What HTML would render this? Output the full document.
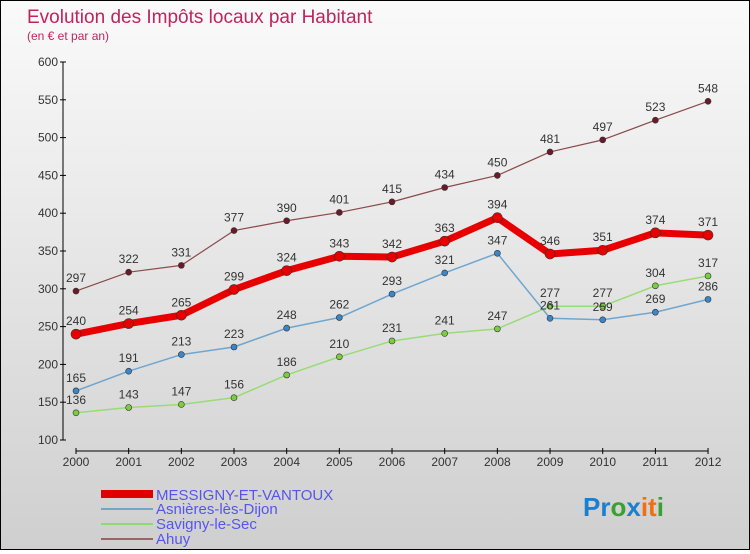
<!DOCTYPE html>
<html><head><meta charset="utf-8"><style>
body{margin:0;width:750px;height:550px;overflow:hidden}
#c{position:absolute;left:0;top:0;width:748px;height:548px;border:1px solid #000;background:linear-gradient(#fafafa,#cfcfcf)}
text{font-family:"Liberation Sans",sans-serif}
</style></head><body>
<div id="c">
<svg id="s" width="748" height="548" xmlns="http://www.w3.org/2000/svg">
<text x="26" y="22" font-size="19" fill="#c0245c">Evolution des Impôts locaux par Habitant</text>
<text x="26" y="39" font-size="12" fill="#c0245c">(en € et par an)</text>
<g id="axes"></g><g id="series"></g>
<g>
<rect x="100" y="489" width="52" height="8" fill="#e00000"/>
<text x="155" y="499" font-size="15" fill="#5555ee">MESSIGNY-ET-VANTOUX</text>
<line x1="100" y1="508" x2="152" y2="508" stroke="#6fa6d0" stroke-width="2"/>
<text x="155" y="513" font-size="15" fill="#5555ee">Asnières-lès-Dijon</text>
<line x1="100" y1="523" x2="152" y2="523" stroke="#90d870" stroke-width="2"/>
<text x="155" y="528" font-size="15" fill="#5555ee">Savigny-le-Sec</text>
<line x1="100" y1="538" x2="152" y2="538" stroke="#996666" stroke-width="2"/>
<text x="155" y="543" font-size="15" fill="#5555ee">Ahuy</text>
</g>
<text x="582" y="515" font-size="26" font-weight="bold"><tspan fill="#1b7fd0">Pr</tspan><tspan fill="#3aa030">o</tspan><tspan fill="#1b7fd0">x</tspan><tspan fill="#f07010">it</tspan><tspan fill="#3aa030">i</tspan></text>
</svg></div>
<script>
const years=[2000,2001,2002,2003,2004,2005,2006,2007,2008,2009,2010,2011,2012];
const messigny=[240,254,265,299,324,343,342,363,394,346,351,374,371];
const asnieres=[165,191,213,223,248,262,293,321,347,261,259,269,286];
const savigny=[136,143,147,156,186,210,231,241,247,277,277,304,317];
const ahuy=[297,322,331,377,390,401,415,434,450,481,497,523,548];
const yTicks=[100,150,200,250,300,350,400,450,500,550,600];
const NS="http://www.w3.org/2000/svg";
const X=i=>75+i*52.67, Y=v=>439-(v-100)*0.756;
function mk(t,a,p){const e=document.createElementNS(NS,t);for(const k in a)e.setAttribute(k,a[k]);p.appendChild(e);return e;}
const ax=document.getElementById('axes');
let l=mk('line',{x1:62,y1:Y(600),x2:62,y2:Y(100),stroke:'#000','stroke-width':1},ax);


yTicks.forEach(v=>{
 mk('line',{x1:59,y1:Y(v),x2:65,y2:Y(v),stroke:'#000'},ax);
 const t=mk('text',{x:57,y:Y(v)+4,'font-size':12,fill:'#333','text-anchor':'end'},ax);t.textContent=v;
 
 
});
l=mk('line',{x1:X(0),y1:450,x2:X(12),y2:450,stroke:'#000'},ax);


years.forEach((y,i)=>{
 mk('line',{x1:X(i),y1:447,x2:X(i),y2:453,stroke:'#000'},ax);
 const t=mk('text',{x:X(i),y:465,'font-size':12,fill:'#333','text-anchor':'middle'},ax);t.textContent=y;
 
 
});
const sg=document.getElementById('series');
function draw(d,name,col,w,dot,r){
 const g=mk('g',{},sg);
 
 
 const p=mk('polyline',{points:d.map((v,i)=>X(i)+','+Y(v)).join(' '),fill:'none',stroke:col,'stroke-width':w,'stroke-linejoin':'round'},g);
 
 
 d.forEach((v,i)=>{
  const c=mk('circle',{cx:X(i),cy:Y(v),r:r,fill:dot,stroke:'#333','stroke-width':0.6},g);
  
  
  const t=mk('text',{x:X(i),y:Y(v)-9,'font-size':12,fill:'#333','text-anchor':'middle'},g);t.textContent=v;
  
  
 });
}
draw(ahuy,'ahuy','#8a4a4a',1.2,'#6a1a2a',3);
draw(savigny,'savigny','#98dc78',1.5,'#7acc40',3);
draw(asnieres,'asnieres','#6fa6d0',1.5,'#3a86c8',3);
draw(messigny,'messigny','#e80000',7,'#e80000',5);
</script>
</body></html>
